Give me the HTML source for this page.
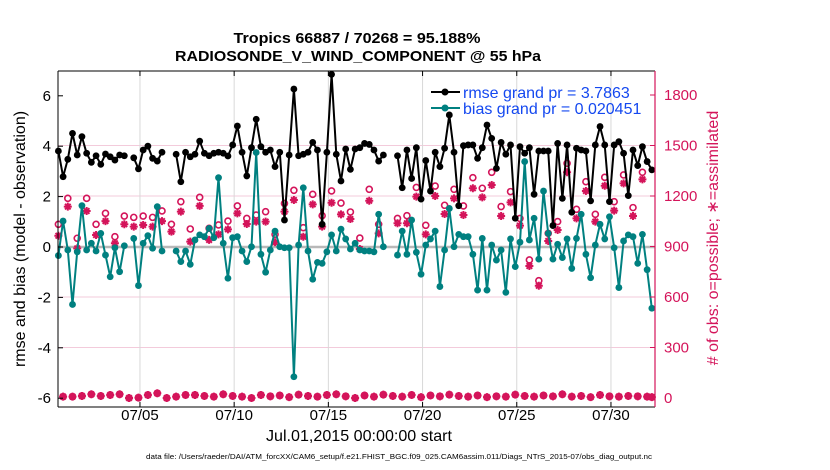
<!DOCTYPE html>
<html><head><meta charset="utf-8"><style>
html,body{margin:0;padding:0;background:#fff;}
svg{display:block;font-family:"Liberation Sans",Arial,sans-serif;}
</style></head><body>
<svg id="chart" width="830" height="470" viewBox="0 0 830 470" xmlns="http://www.w3.org/2000/svg">
<text x="357" y="43" text-anchor="middle" font-weight="bold" font-size="15" textLength="247" lengthAdjust="spacingAndGlyphs">Tropics 66887 / 70268 = 95.188%</text>
<text x="358" y="61" text-anchor="middle" font-weight="bold" font-size="15" textLength="366" lengthAdjust="spacingAndGlyphs">RADIOSONDE_V_WIND_COMPONENT @ 55 hPa</text>
<g id="grid"></g><g id="marks"></g><g id="axes"></g>
<text x="359" y="441" text-anchor="middle" font-size="16" textLength="186" lengthAdjust="spacingAndGlyphs">Jul.01,2015 00:00:00 start</text>
<text x="399" y="459" text-anchor="middle" font-size="7.5" textLength="506" lengthAdjust="spacingAndGlyphs">data file: /Users/raeder/DAI/ATM_forcXX/CAM6_setup/f.e21.FHIST_BGC.f09_025.CAM6assim.011/Diags_NTrS_2015-07/obs_diag_output.nc</text>
<text transform="translate(25,239) rotate(-90)" text-anchor="middle" font-size="16">rmse and bias (model - observation)</text>
<text transform="translate(718,238) rotate(-90)" text-anchor="middle" font-size="16" fill="#d4145a">#  of obs: o=possible; ∗=assimilated</text>
<g>
<line x1="431" y1="92" x2="460" y2="92" stroke="#000" stroke-width="2"/><circle cx="445" cy="92" r="3.5" fill="#000"/>
<text x="463" y="98" font-size="16" fill="#1448f0">rmse grand pr = 3.7863</text>
<line x1="431" y1="108" x2="460" y2="108" stroke="#008080" stroke-width="2"/><circle cx="445" cy="108" r="3.5" fill="#008080"/>
<text x="463" y="114" font-size="16" fill="#1448f0">bias grand pr = 0.020451</text>
</g>
</svg>
<script>
const N=null;
const rmse=[3.81,2.79,3.48,4.51,3.65,4.38,3.72,3.36,3.62,3.28,3.69,3.58,3.45,3.65,3.62,N,3.54,3.10,3.85,4.0,3.52,3.41,3.76,N,N,3.68,2.59,3.76,3.58,3.68,4.2,3.72,3.62,3.72,3.76,3.72,3.61,4.05,4.8,3.76,2.82,3.94,5.07,3.98,3.76,3.85,3.19,3.76,1.07,3.65,6.27,3.62,3.68,3.76,4.15,3.85,0.9,3.76,6.85,3.68,2.62,3.89,3.08,3.89,3.94,4.11,4.07,3.85,3.41,3.65,N,N,3.62,2.35,3.85,2.72,3.94,1.9,3.43,2.22,3.76,3.19,3.92,5.24,3.76,1.64,4.02,4.05,4.05,3.52,3.94,4.84,4.31,3.12,4.15,3.68,4.05,1.14,3.98,3.72,3.94,2.09,3.81,3.81,3.81,0.85,4.11,1.93,4.05,1.38,3.92,3.85,3.81,1.83,4.05,4.78,4.05,1.8,4.05,4.18,3.72,2.04,3.85,3.23,3.98,3.39,3.06];
const bias=[-0.34,1.03,-0.12,-2.28,-0.19,1.64,-0.12,0.15,-0.16,0.54,-0.32,-1.18,-0.03,-0.98,0.05,N,0.34,-1.53,0.15,0.45,-0.05,1.60,-0.16,N,N,-0.16,-0.58,-0.16,-0.69,0.28,0.48,0.41,0.74,0.37,2.75,0.15,-1.24,0.37,0.41,-0.16,-0.58,0.01,3.75,-0.29,-1.0,-0.12,0.63,0.01,-0.03,-0.03,-5.15,0.08,2.35,-0.16,-1.28,-0.61,-0.65,-0.19,0.48,-0.16,0.71,0.32,-0.08,0.15,-0.12,-0.16,-0.16,-0.19,1.30,0.01,N,N,-0.32,0.63,-0.29,1.07,-0.21,-1.08,0.08,0.32,0.63,-1.57,-0.12,1.53,0.01,0.5,0.41,0.41,-0.29,-1.71,0.34,-1.71,0.08,-0.52,-0.12,-1.8,0.32,-0.78,0.19,3.39,0.28,1.14,-0.48,2.22,0.54,-0.48,0.11,-0.42,0.32,-0.85,0.34,1.3,-0.29,-1.22,0.08,0.9,0.32,1.2,-0.03,-1.61,0.24,0.48,0.41,-0.65,0.5,-0.9,-2.43];
const possible=[1032,8,1186,8,949,12,1186,22,1032,12,1097,18,958,22,1081,0,1073,2,1081,18,1073,28,1111,0,1032,8,1166,18,1004,18,1192,12,1008,8,1028,22,1051,12,1141,8,1067,0,1087,18,1107,10,972,15,1156,5,1234,20,1012,12,1210,8,1083,18,1230,22,1158,10,1105,0,950,15,1240,8,1032,20,N,12,1067,8,1083,18,1251,5,1026,15,1259,10,1145,20,1240,12,1141,8,1309,15,1246,5,1341,10,1137,8,1226,20,1067,12,820,8,697,15,978,10,1048,22,1394,8,1121,12,1285,5,1091,18,1311,10,1166,8,1325,12,1131,10,1341,8,5];
const assimilated=[964,8,1137,8,889,12,1111,22,968,12,1051,18,919,22,1032,0,1018,2,1028,18,1018,28,1051,0,988,8,1107,18,929,18,1141,12,939,8,972,22,1002,12,1097,8,1034,0,1048,18,1048,10,925,15,1107,5,1176,20,958,12,1150,8,1018,18,1160,22,1091,10,1063,0,885,15,1172,8,978,20,N,12,1038,8,1038,18,1196,5,972,15,1200,10,1093,20,1186,12,1087,8,1246,15,1192,5,1265,10,1081,8,1162,20,1024,12,784,8,667,15,933,10,998,22,1341,8,1067,12,1230,5,1048,18,1261,10,1113,8,1275,12,1081,10,1299,8,5];
const leftTicks=[-6,-4,-2,0,2,4,6];
const rightTicks=[0,300,600,900,1200,1500,1800];
const dateTicks=[4,9,14,19,24,29];
const dateLabels=["07/05","07/10","07/15","07/20","07/25","07/30"];
const t0=-0.33, dt=0.25;

const L=58,R=655,T=71,B=407;
const xS=t=>64.6+18.84*t;
const yL=v=>247-25.2*v;
const yR=v=>398-v*(303/1800);
const NS="http://www.w3.org/2000/svg";
function mk(tag,attrs,parent){const e=document.createElementNS(NS,tag);for(const k in attrs)e.setAttribute(k,attrs[k]);parent.appendChild(e);return e;}
const grid=document.getElementById('grid'),marks=document.getElementById('marks'),axes=document.getElementById('axes');
const PINK="#d4145a";

rightTicks.forEach(v=>{const y=yR(v);
 if(v>0&&v<1800){const g=mk('line',{x1:L,x2:R,y1:y,y2:y,stroke:"#f3cbdb","stroke-width":1},grid);
 
 }});
dateTicks.forEach((t,i)=>{const x=xS(t);
 const g=mk('line',{x1:x,x2:x,y1:T,y2:B,stroke:"#d8d8d8","stroke-width":1},grid);
 
 });
const z=mk('line',{x1:L,x2:R,y1:yL(0),y2:yL(0),stroke:"#b8b8b8","stroke-width":2.5},grid);



function series(arr,color,name){
 let d="",pen=false;
 arr.forEach((v,i)=>{if(v===null){pen=false;return;}const x=xS(t0+dt*i),y=yL(v);d+=(pen?"L":"M")+x.toFixed(1)+","+y.toFixed(1);pen=true;});
 const p=mk('path',{d:d,fill:"none",stroke:color,"stroke-width":2,"stroke-linejoin":"round"},marks);
 
 
 arr.forEach((v,i)=>{if(v===null)return;
  const c=mk('circle',{cx:xS(t0+dt*i),cy:yL(v),r:3.4,fill:color},marks);
  
  });
}
possible.forEach((v,i)=>{if(v===null)return;
 const c=mk('circle',{cx:xS(t0+dt*i),cy:yR(v),r:3,fill:"none",stroke:PINK,"stroke-width":1.6},marks);
 
 });
assimilated.forEach((v,i)=>{if(v===null)return;
 const x=xS(t0+dt*i),y=yR(v),s=4;
 const d=`M${x-s},${y}L${x+s},${y}M${x},${y-s}L${x},${y+s}M${x-s*0.7},${y-s*0.7}L${x+s*0.7},${y+s*0.7}M${x-s*0.7},${y+s*0.7}L${x+s*0.7},${y-s*0.7}`;
 const p=mk('path',{d:d,stroke:PINK,"stroke-width":2,fill:"none"},marks);
 
 });
series(bias,"#008080","bias");
series(rmse,"#000000","rmse");

mk('line',{x1:L,x2:R,y1:T,y2:T,stroke:"#000","stroke-width":1},axes);
mk('line',{x1:L,x2:R,y1:B,y2:B,stroke:"#000","stroke-width":1},axes);
mk('line',{x1:L,x2:L,y1:T,y2:B,stroke:"#000","stroke-width":1},axes);
mk('line',{x1:R,x2:R,y1:T,y2:B,stroke:PINK,"stroke-width":1.2},axes);
leftTicks.forEach(v=>{const y=yL(v);
 mk('line',{x1:L,x2:L+5,y1:y,y2:y,stroke:"#000"},axes);
 const t=mk('text',{x:L-7,y:y+5,"text-anchor":"end","font-size":15},axes);
 t.textContent=String(v);
 
 });
rightTicks.forEach(v=>{const y=yR(v);
 mk('line',{x1:R-5,x2:R,y1:y,y2:y,stroke:PINK},axes);
 const t=mk('text',{x:R+9,y:y+5,"font-size":15,fill:PINK},axes);
 t.textContent=String(v);
 
 });
dateTicks.forEach((tv,i)=>{const x=xS(tv);
 mk('line',{x1:x,x2:x,y1:B,y2:B-5,stroke:"#000"},axes);
 mk('line',{x1:x,x2:x,y1:T,y2:T+5,stroke:"#000"},axes);
 const t=mk('text',{x:x,y:420,"text-anchor":"middle","font-size":15},axes);
 t.textContent=dateLabels[i];
 
 });
</script>
</body></html>
